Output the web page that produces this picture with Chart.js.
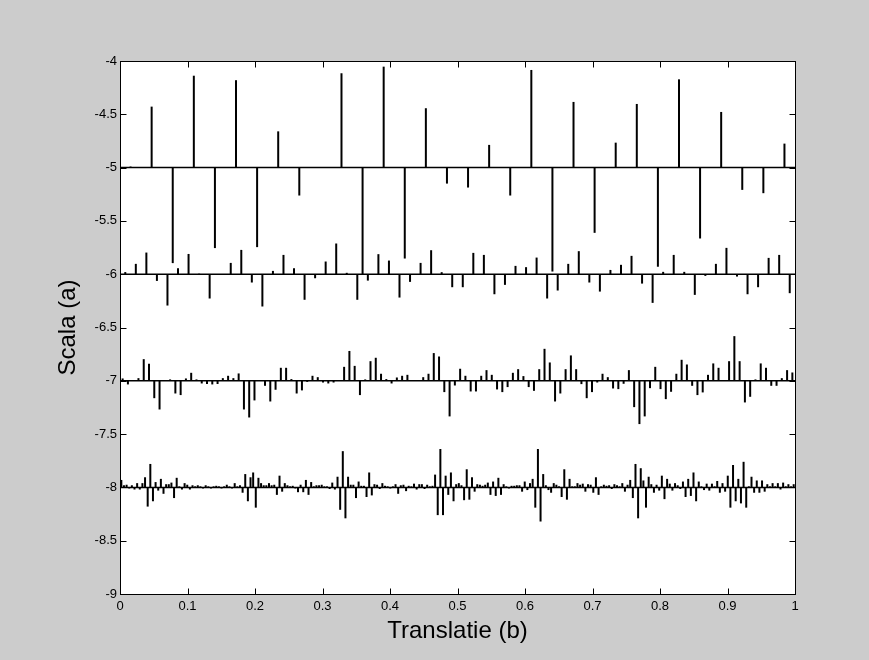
<!DOCTYPE html>
<html>
<head>
<meta charset="utf-8">
<script src="https://cdn.jsdelivr.net/npm/chart.js@4/dist/chart.umd.min.js"></script>
<style>
  html, body { margin: 0; padding: 0; background: #cccccc; }
  #wrap { width: 869px; height: 660px; }
</style>
</head>
<body>
<div id="wrap"><canvas id="chartScala" width="869" height="660"></canvas></div>
<script>
// scale levels (a) and detail coefficients
const levels = [-5, -6, -7, -8];

const coef5 = [0.01, 0.572, -0.896, 0.862, -0.755, 0.82, -0.746, 0.34, -0.262, 0, 0.885, -1.0, 0.947, -0.853, 0.557, -0.15,
  -0.187, 0.213, -0.262, 0.916, -0.975, 0.616, -0.612, 0.234, 0.597, -0.93, 0.828, -0.665, 0.522, -0.209, -0.24, 0.225];

const coef6 = [0.02, 0.097, 0.203, -0.063, -0.294, 0.056, 0.19, 0.005, -0.228, 0, 0.106, 0.228, -0.078, -0.303, 0.031, 0.181,
  0.056, -0.24, -0.038, 0.119, 0.288, 0.013, -0.24, -0.06, 0.188, 0.128, -0.219, -0.072, 0.106, 0.225, 0.019, -0.122,
  -0.122, 0.2, 0.181, -0.188, -0.1, 0.078, 0.066, 0.156, -0.228, -0.153, 0.097, 0.216, -0.078, -0.163, 0.04, 0.088,
  0.172, -0.088, -0.269, 0.022, 0.181, 0.022, -0.194, -0.016, 0.097, 0.247, -0.022, -0.188, -0.122, 0.153, 0.181, -0.178];

const coef7 = [0.022, -0.034, 0, 0.025, 0.203, 0.16, -0.163, -0.269, 0, 0.013, -0.119, -0.134, 0.022, 0.075, 0.013, -0.025,
  -0.03, -0.034, -0.03, 0.025, 0.047, 0.025, 0.069, -0.269, -0.344, -0.184, 0, -0.047, -0.194, -0.084, 0.122, 0.122,
  0.016, -0.119, -0.09, -0.01, 0.047, 0.034, -0.016, -0.025, -0.016, 0, 0.131, 0.28, 0.14, -0.134, 0.013, 0.184,
  0.216, 0.066, 0.016, -0.025, 0.031, 0.047, 0.056, 0, 0, 0.034, 0.066, 0.26, 0.228, -0.106, -0.334, -0.044,
  0.113, 0.047, -0.1, -0.1, 0.047, 0.1, 0.056, -0.081, -0.106, -0.059, 0.075, 0.109, 0.044, -0.059, -0.094, 0.109,
  0.3, 0.172, -0.194, -0.119, 0.109, 0.238, 0.109, -0.031, -0.163, -0.106, -0.016, 0.066, 0.034, -0.072, -0.078, -0.028,
  0.1, -0.247, -0.406, -0.334, -0.069, 0.131, -0.078, -0.172, -0.103, 0.066, 0.197, 0.153, -0.047, -0.134, -0.109, 0.056,
  0.163, 0.122, 0, 0.184, 0.419, 0.184, -0.203, -0.15, 0.013, 0.163, 0.122, -0.047, -0.047, 0.025, 0.1, 0.078];

const coef8 = [0.07, 0.02, 0.025, -0.01, 0.02, -0.02, 0.04, -0.02, 0.04, 0.095, -0.18, 0.22, -0.13, 0.05, -0.03, 0.08,
  -0.06, 0.03, 0.03, 0.045, -0.1, 0.09, 0.01, -0.02, 0.04, 0.025, -0.02, 0.02, 0.01, 0.02, 0.01, -0.01,
  0.02, 0.01, -0.01, 0.01, 0.015, 0.01, -0.01, 0.01, 0.025, 0.01, -0.01, 0.04, 0.01, 0.02, -0.05, 0.125,
  -0.13, 0.095, 0.14, -0.19, 0.09, 0.04, 0.02, 0.02, 0.04, 0.02, 0.025, -0.07, 0.11, -0.04, 0.04, 0.02,
  0.01, 0.015, -0.01, -0.045, 0.025, -0.045, 0.07, -0.07, 0.05, 0.01, 0.02, 0.02, 0.025, 0.01, 0.01, -0.015,
  0.045, -0.02, 0.1, -0.21, 0.34, -0.29, 0.1, 0.025, 0.025, -0.1, 0.055, 0.015, 0.015, -0.09, 0.14, -0.075,
  0.03, 0.025, -0.015, 0.04, 0.015, 0.01, -0.01, 0.01, 0.03, -0.06, 0.02, 0.025, -0.035, 0.015, 0.01, 0.035,
  -0.02, 0.03, 0.03, -0.015, 0.025, 0.01, 0.015, 0.12, -0.26, 0.36, -0.26, 0.11, -0.07, 0.14, -0.13, 0.03,
  0.04, 0.02, -0.12, 0.17, -0.115, 0.095, -0.04, 0.03, 0.025, 0.015, 0.025, 0.045, -0.07, 0.055, -0.08, 0.09,
  -0.07, 0.03, 0.01, -0.01, 0.015, 0.015, 0.02, 0.02, -0.04, 0.055, -0.025, 0.04, 0.08, -0.19, 0.36, -0.32,
  0.125, 0.02, -0.025, -0.05, 0.04, 0.025, 0.01, -0.09, 0.17, -0.115, 0.08, 0.01, 0.01, 0.04, 0.025, 0.035,
  -0.04, 0.03, 0.025, -0.05, 0.095, -0.07, 0.01, 0.025, 0.015, 0.02, -0.015, 0.03, 0.02, 0.01, 0.04, -0.04,
  0.025, 0.07, -0.1, 0.22, -0.29, 0.18, 0.065, -0.19, 0.1, 0.03, -0.05, 0.025, -0.03, 0.11, -0.11, 0.08,
  0.035, -0.03, 0.04, 0.02, -0.015, 0.055, -0.09, 0.08, -0.08, 0.14, -0.13, 0.055, 0.01, -0.025, 0.035, -0.03,
  0.035, 0.01, 0.06, -0.05, 0.04, -0.04, 0.11, -0.19, 0.21, -0.13, 0.08, -0.15, 0.24, -0.19, 0.01, 0.1,
  -0.05, 0.065, -0.05, 0.065, -0.04, 0.03, 0.01, 0.04, 0.01, 0.04, -0.02, 0.045, 0.01, 0.03, 0.01, 0.03];

const xTicks = [0, 0.1, 0.2, 0.3, 0.4, 0.5, 0.6, 0.7, 0.8, 0.9, 1];
const yTicks = [-9, -8.5, -8, -7.5, -7, -6.5, -6, -5.5, -5, -4.5, -4];
const xTitle = 'Translatie (b)';
const yTitle = 'Scala (a)';

// stems sit in the middle of each translation cell at their level
function stems(level, coefs) {
  const n = coefs.length;
  return coefs.map((c, k) => ({ x: (k + 0.5) / n, y: [level, level + c] }));
}

const coefSets = [coef5, coef6, coef7, coef8];
const datasets = [];
coefSets.forEach((c, i) => {
  datasets.push({
    type: 'bar',
    data: stems(levels[i], c),
    backgroundColor: '#000000',
    borderWidth: 0,
    grouped: false,
    barPercentage: 1.6,
    categoryPercentage: 1,
    maxBarThickness: 2
  });
  datasets.push({
    type: 'line',
    data: [{ x: 0, y: levels[i] }, { x: 1, y: levels[i] }],
    borderColor: '#000000',
    borderWidth: 1.5,
    pointRadius: 0
  });
});

// grey figure, white axes, matlab box with inward ticks
const matlabFrame = {
  id: 'matlabFrame',
  beforeDraw(chart) {
    const { ctx, chartArea: a } = chart;
    ctx.save();
    ctx.fillStyle = '#cccccc';
    ctx.fillRect(0, 0, chart.width, chart.height);
    ctx.fillStyle = '#ffffff';
    ctx.fillRect(a.left, a.top, a.right - a.left, a.bottom - a.top);
    ctx.restore();
  },
  afterDraw(chart) {
    const { ctx, chartArea: a, scales } = chart;
    const L = Math.round(a.left) + 0.5, R = Math.round(a.right) + 0.5;
    const T = Math.round(a.top) + 0.5, B = Math.round(a.bottom) + 0.5;
    const len = 6;
    ctx.save();
    ctx.strokeStyle = '#000000';
    ctx.lineWidth = 1;
    ctx.beginPath();
    scales.x.ticks.forEach(t => {
      const p = Math.round(scales.x.getPixelForValue(t.value)) + 0.5;
      ctx.moveTo(p, B); ctx.lineTo(p, B - len);
      ctx.moveTo(p, T); ctx.lineTo(p, T + len);
    });
    scales.y.ticks.forEach(t => {
      const p = Math.round(scales.y.getPixelForValue(t.value)) + 0.5;
      ctx.moveTo(L, p); ctx.lineTo(L + len, p);
      ctx.moveTo(R, p); ctx.lineTo(R - len, p);
    });
    ctx.stroke();
    ctx.strokeRect(L, T, R - L, B - T);
    ctx.restore();
  }
};

Chart.defaults.font.family = '"Liberation Sans", Arial, Helvetica, sans-serif';
Chart.defaults.color = '#000000';

const ctx = document.getElementById('chartScala').getContext('2d');
new Chart(ctx, {
  type: 'bar',
  data: { datasets },
  options: {
    responsive: false,
    animation: false,
    layout: { padding: { left: 0, right: 74, top: 61, bottom: 0 } },
    plugins: { legend: { display: false }, tooltip: { enabled: false } },
    scales: {
      x: {
        type: 'linear',
        min: 0,
        max: 1,
        offset: false,
        grid: { display: false, drawTicks: false },
        border: { display: false },
        afterBuildTicks: s => { s.ticks = xTicks.map(v => ({ value: v })); },
        afterFit: s => { s.height = 66; },
        ticks: {
          padding: 5,
          maxRotation: 0,
          autoSkip: false,
          font: { size: 13 },
          callback: v => String(+(+v).toFixed(1))
        },
        title: {
          display: true,
          text: xTitle,
          font: { size: 24 },
          padding: { top: 0, bottom: 14 }
        }
      },
      y: {
        type: 'linear',
        min: -9,
        max: -4,
        grid: { display: false, drawTicks: false },
        border: { display: false },
        afterBuildTicks: s => { s.ticks = yTicks.map(v => ({ value: v })); },
        afterFit: s => { s.width = 120; },
        ticks: {
          padding: 3,
          autoSkip: false,
          font: { size: 13 },
          callback: v => String(+(+v).toFixed(1))
        },
        title: {
          display: true,
          text: yTitle,
          font: { size: 24 },
          padding: { top: 54, bottom: 0 }
        }
      }
    }
  },
  plugins: [matlabFrame]
});
</script>
</body>
</html>
